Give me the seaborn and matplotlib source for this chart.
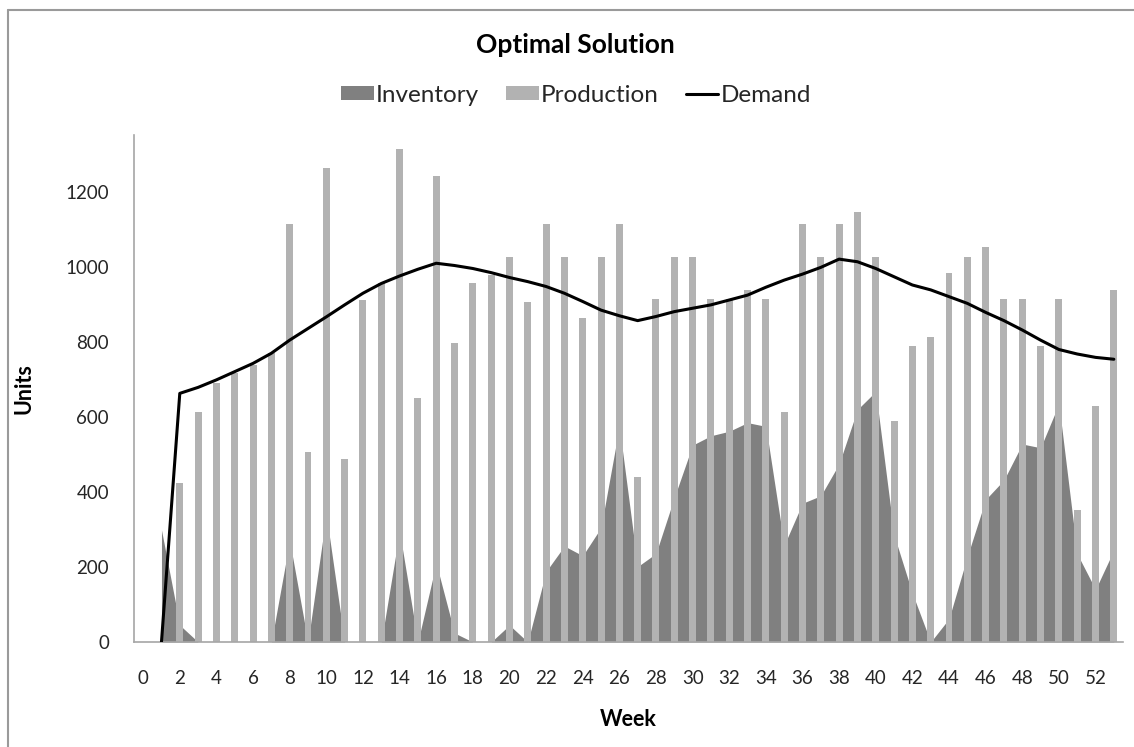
# ============================================
# OPTIMAL SOLUTION - INVENTORY / PRODUCTION / DEMAND
# ============================================

import numpy as np
import pandas as pd
import seaborn as sns
import matplotlib.pyplot as plt
from matplotlib.lines import Line2D
from matplotlib.patches import Patch

# ============================================
# DATA
# ============================================

weeks = list(range(0, 54))

production = [
    0, 0, 423, 614, 690, 717, 739, 770, 1116, 507,
    1263, 487, 912, 957, 1316, 650, 1243, 798, 958, 979,
    1026, 908, 1115, 1026, 863, 1026, 1115, 439, 916, 1026,
    1026, 916, 916, 940, 916, 613, 1115, 1026, 1115, 1146,
    1026, 589, 790, 814, 985, 1026, 1053, 916, 916, 790,
    916, 352, 629, 940
]

inventory = [
    np.nan, 299, 45, 0, 0, 0, 0, 0, 270, 0,
    340, 0, 0, 0, 295, 0, 210, 24, 0, 0,
    45, 0, 188, 256, 230, 305, 575, 201, 236, 385,
    525, 550, 562, 585, 575, 258, 370, 390, 475, 620,
    668, 285, 130, 0, 62, 228, 380, 432, 528, 518,
    635, 235, 140, 245
]

demand = [
    np.nan, 0, 663, 679, 699, 721, 743, 770, 805, 836,
    867, 899, 930, 956, 976, 994, 1010, 1004, 996, 985,
    972, 961, 948, 930, 908, 885, 870, 857, 868, 881,
    890, 899, 912, 925, 946, 965, 981, 999, 1021, 1014,
    996, 974, 952, 939, 921, 903, 879, 857, 832, 805,
    780, 768, 759, 754
]

y_ticks = [0, 200, 400, 600, 800, 1000, 1200]
x_ticks = list(range(0, 53, 2))

df = pd.DataFrame({
    "Week": weeks,
    "Production": production,
    "Inventory": inventory,
    "Demand": demand
})

# ============================================
# VISUAL THEME
# ============================================

DARK_GREY = "#808080"
LIGHT_GREY = "#b2b2b2"
AXIS_GREY = "#a6a6a6"
TEXT_DARK = "#262626"

sns.set_theme(style="white")
plt.rcParams["font.family"] = ["Lato", "DejaVu Sans"]

# ============================================
# FIGURE
# ============================================

fig = plt.figure(figsize=(11.34, 7.47), dpi=100)
ax = fig.add_axes([134 / 1134, 1 - 642 / 747, 989 / 1134, 507 / 747])

# inventory area (behind)
ax.fill_between(
    df["Week"],
    df["Inventory"],
    color=DARK_GREY,
    linewidth=0,
    zorder=1
)

# production bars
sns.barplot(
    data=df,
    x="Week",
    y="Production",
    color=LIGHT_GREY,
    saturation=1,
    width=0.38,
    linewidth=0,
    ax=ax,
    zorder=2
)

# demand line
sns.lineplot(
    data=df,
    x="Week",
    y="Demand",
    color="black",
    linewidth=2.2,
    legend=False,
    ax=ax,
    zorder=3
)

ax.set_xlim(-0.5, 53.5)
ax.set_ylim(0, 1352)

ax.set_xticks(x_ticks)
ax.set_xticklabels([str(t) for t in x_ticks])
ax.set_yticks(y_ticks)
ax.set_yticklabels([str(t) for t in y_ticks])

ax.tick_params(axis="x", length=0, pad=20, labelsize=13.5, labelcolor=TEXT_DARK)
ax.tick_params(axis="y", length=0, pad=18, labelsize=13.5, labelcolor=TEXT_DARK)

for side in ["top", "right"]:
    ax.spines[side].set_visible(False)
for side in ["left", "bottom"]:
    ax.spines[side].set_color(AXIS_GREY)
    ax.spines[side].set_linewidth(1.2)

ax.grid(False)

ax.set_xlabel("Week", fontsize=15.5, fontweight="bold", color="black", labelpad=16)
ax.set_ylabel("Units", fontsize=15.5, fontweight="bold", color="black", labelpad=22)

# ============================================
# TITLE & LEGEND
# ============================================

fig.text(
    575 / 1134, 1 - 45 / 747,
    "Optimal Solution",
    ha="center", va="center",
    fontsize=19, fontweight="bold", color="black"
)

handles = [
    Patch(facecolor=DARK_GREY, edgecolor="none", label="Inventory"),
    Patch(facecolor=LIGHT_GREY, edgecolor="none", label="Production"),
    Line2D([0], [0], color="black", linewidth=2.2, label="Demand")
]

fig.legend(
    handles=handles,
    loc="center",
    bbox_to_anchor=(576 / 1134, 1 - 95 / 747),
    ncol=3,
    frameon=False,
    fontsize=17.5,
    handlelength=1.35,
    handleheight=0.55,
    handletextpad=0.1,
    columnspacing=1.1
)

# chart frame (top and left edges only visible in the crop)
fig.add_artist(Line2D([8 / 1134, 8 / 1134], [0, 1 - 10 / 747],
                      transform=fig.transFigure, color="#9a9a9a", linewidth=1.5))
fig.add_artist(Line2D([8 / 1134, 1], [1 - 10 / 747, 1 - 10 / 747],
                      transform=fig.transFigure, color="#9a9a9a", linewidth=1.5))

plt.savefig("out.png", dpi=100)
plt.close()
